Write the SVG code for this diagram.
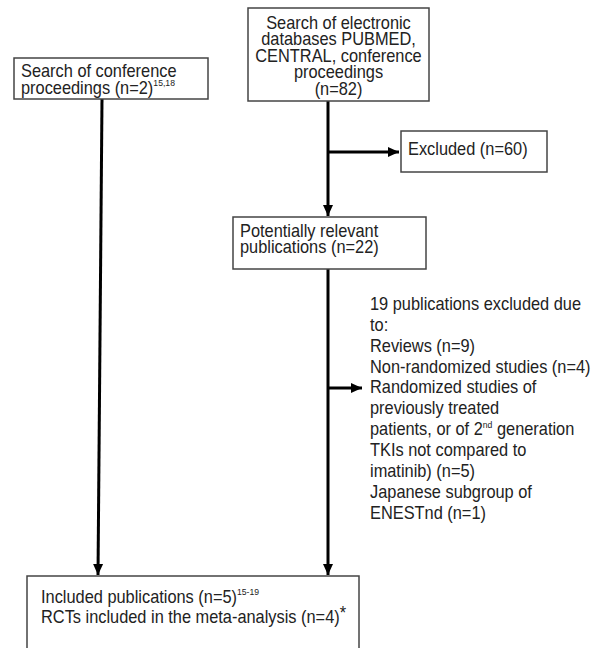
<svg xmlns="http://www.w3.org/2000/svg" width="603" height="648" viewBox="0 0 603 648">
<style>
.box{fill:#fff;stroke:#444;stroke-width:1.5}
.t{font-family:"Liberation Sans",Arial,sans-serif;font-size:18px;fill:#222}
.c{text-anchor:middle}
.sup{font-size:9.5px}
.ln{stroke:#000;stroke-width:3;fill:none}
</style>
<defs>
<marker id="ah" markerUnits="userSpaceOnUse" markerWidth="12" markerHeight="12" refX="11" refY="6" orient="auto">
<path d="M0,1 L11,6 L0,11 Z" fill="#000"/>
</marker>
</defs>
<g id="connectors">
<line class="ln" x1="102" y1="99" x2="98" y2="575" marker-end="url(#ah)"/>
<line class="ln" x1="328" y1="101" x2="328" y2="216" marker-end="url(#ah)"/>
<line class="ln" x1="328" y1="152" x2="399" y2="152" marker-end="url(#ah)"/>
<line class="ln" x1="328" y1="269" x2="328" y2="575" marker-end="url(#ah)"/>
<line class="ln" x1="328" y1="388" x2="362" y2="388" marker-end="url(#ah)"/>
</g>
<g id="search-db">
<rect class="box" x="248" y="8" width="181" height="93"/>
<g transform="translate(338.5,0) scale(0.91,1)">
<text class="t c" x="0" y="29">Search of electronic</text>
<text class="t c" x="0" y="45.5">databases PUBMED,</text>
<text class="t c" x="0" y="62">CENTRAL, conference</text>
<text class="t c" x="0" y="78.5">proceedings</text>
<text class="t c" x="0" y="95">(n=82)</text>
</g>
</g>
<g id="search-conf">
<rect class="box" x="14" y="58" width="194" height="41"/>
<g transform="translate(21,0) scale(0.91,1)">
<text class="t" x="0" y="77">Search of conference</text>
<text class="t" x="0" y="94">proceedings (n=2)<tspan class="sup" dy="-8">15,18</tspan></text>
</g>
</g>
<g id="excluded">
<rect class="box" x="401" y="131" width="146" height="41"/>
<g transform="translate(408,0) scale(0.91,1)">
<text class="t" x="0" y="155">Excluded (n=60)</text>
</g>
</g>
<g id="relevant">
<rect class="box" x="233" y="217" width="193" height="52"/>
<g transform="translate(240,0) scale(0.91,1)">
<text class="t" x="0" y="237">Potentially relevant</text>
<text class="t" x="0" y="253">publications (n=22)</text>
</g>
</g>
<g id="excluded-19">
<g transform="translate(370,0) scale(0.91,1)">
<text class="t" x="0" y="310">19 publications excluded due</text>
<text class="t" x="0" y="331">to:</text>
<text class="t" x="0" y="351.7">Reviews (n=9)</text>
<text class="t" x="0" y="372.6">Non-randomized studies (n=4)</text>
<text class="t" x="0" y="393.4">Randomized studies of</text>
<text class="t" x="0" y="414.3">previously treated</text>
<text class="t" x="0" y="435.1">patients, or of 2<tspan class="sup" dy="-7">nd</tspan><tspan dy="7"> generation</tspan></text>
<text class="t" x="0" y="456">TKIs not compared to</text>
<text class="t" x="0" y="476.9">imatinib) (n=5)</text>
<text class="t" x="0" y="497.7">Japanese subgroup of</text>
<text class="t" x="0" y="518.6">ENESTnd (n=1)</text>
</g>
</g>
<g id="included">
<rect class="box" x="27" y="576" width="332" height="80"/>
<g transform="translate(41,0) scale(0.91,1)">
<text class="t" x="0" y="603">Included publications (n=5)<tspan class="sup" dy="-8">15-19</tspan></text>
<text class="t" x="0" y="623">RCTs included in the meta-analysis (n=4)<tspan dy="-4">*</tspan></text>
</g>
</g>
</svg>
